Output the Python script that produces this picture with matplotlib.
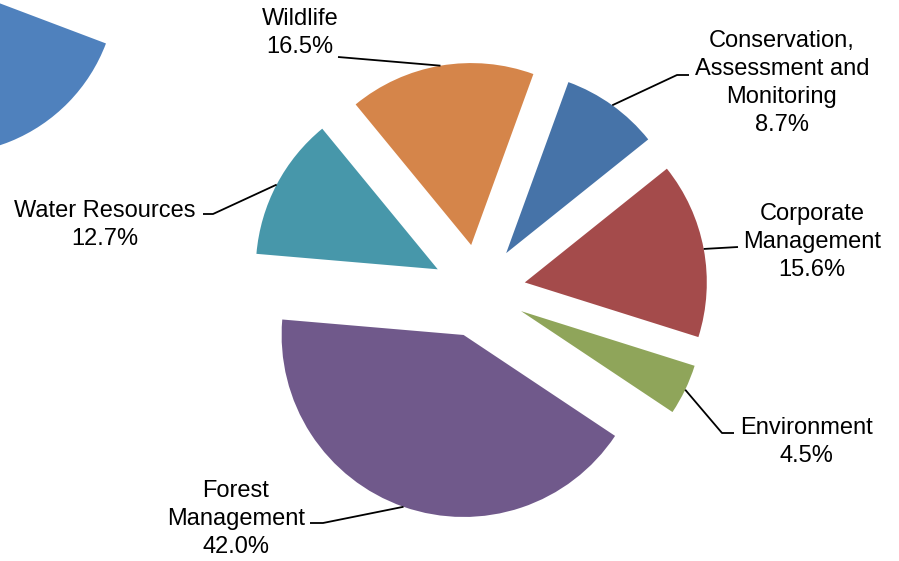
import numpy as np
import matplotlib
matplotlib.use('Agg')
import matplotlib.pyplot as plt
from matplotlib.patches import Wedge

# data
categories = ['Conservation,\nAssessment and\nMonitoring', 'Corporate\nManagement', 'Environment',
              'Forest\nManagement', 'Water Resources', 'Wildlife']
shares = [8.7, 15.6, 4.5, 42.0, 12.7, 16.5]
colors = ['#4673A8', '#A44B4B', '#8FA55A', '#70598B', '#4797AA', '#D5854A']

W, H = 899, 561

# label layout (pixels from top-left): text centre, elbow of leader, end of leader
label_pos = [(782, 83), (812, 242), (806, 442), (236, 519), (105, 225), (300, 33)]
elbow = [(677, 75), (738, 247), (722, 433), (323, 523), (213, 214), (350, 58)]
leader_end = [(689, 75), (738, 247), (734, 433), (310, 523), (203, 214), (338, 57)]


def px(p):
    return p[0], H - p[1]


fig = plt.figure(figsize=(W / 100, H / 100), dpi=100)
ax = fig.add_axes([0, 0, 1, 1])

# piece of a neighbouring chart cut off at the top-left corner
ax.add_patch(Wedge((-54, H + 17), 171, -115, -20.7, fc='#4F81BD', ec='none'))

radius = 182
center = px((479, 291))
# matplotlib's explode is in data units, so scale the 25% explosion by the radius
wedges, _ = ax.pie(shares, colors=colors, explode=[0.256 * radius] * len(shares), radius=radius,
                   center=center, startangle=70, counterclock=False,
                   wedgeprops=dict(linewidth=0))

for i, w in enumerate(wedges):
    mid = np.deg2rad((w.theta1 + w.theta2) / 2)
    cx, cy = w.center
    anchor = (cx + radius * np.cos(mid), cy + radius * np.sin(mid))
    e = px(elbow[i])
    le = px(leader_end[i])
    ax.plot([anchor[0], e[0], le[0]], [anchor[1], e[1], le[1]], color='black', lw=1.3,
            solid_capstyle='butt')
    tx, ty = px(label_pos[i])
    ax.text(tx, ty, '%s\n%.1f%%' % (categories[i], shares[i]), ha='center', va='center',
            multialignment='center', fontsize=17, family='Liberation Sans', linespacing=1.36)

ax.set_xlim(0, W)
ax.set_ylim(0, H)
ax.set_aspect('equal')
ax.axis('off')

fig.savefig('out.png', dpi=100)
